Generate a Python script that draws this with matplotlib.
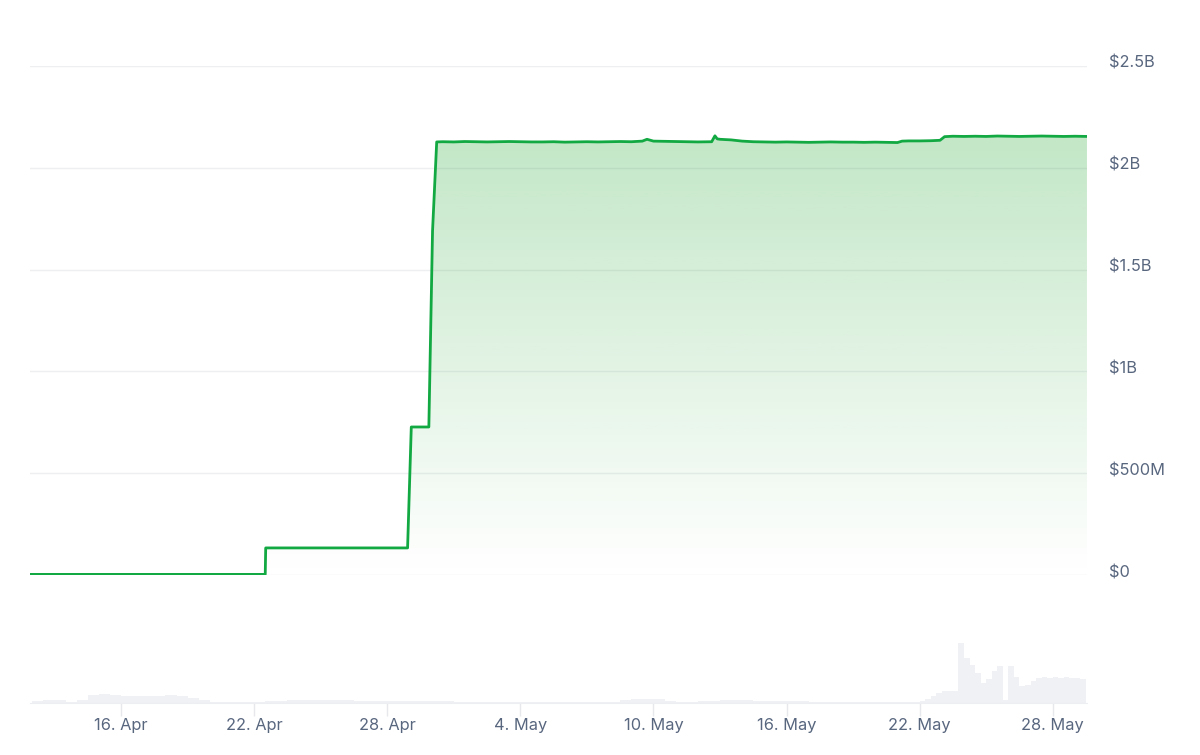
import matplotlib
matplotlib.use("Agg")
import matplotlib.pyplot as plt
import matplotlib.dates as mdates
import matplotlib.transforms as mtransforms
import numpy as np
import pandas as pd

# Market cap (billions of USD)
cap_times = [
    "2024-04-11 21:00", "2024-04-22 12:00", "2024-04-22 12:30", "2024-04-28 22:00",
    "2024-04-29 02:00", "2024-04-29 21:00", "2024-04-30 01:00", "2024-04-30 05:30",
    "2024-04-30 12:00", "2024-05-01 00:00", "2024-05-01 12:00", "2024-05-02 00:00",
    "2024-05-02 12:00", "2024-05-03 00:00", "2024-05-03 12:00", "2024-05-04 00:00",
    "2024-05-04 12:00", "2024-05-05 00:00", "2024-05-05 12:00", "2024-05-06 00:00",
    "2024-05-06 12:00", "2024-05-07 00:00", "2024-05-07 12:00", "2024-05-08 00:00",
    "2024-05-08 12:00", "2024-05-09 00:00", "2024-05-09 12:00", "2024-05-09 17:00",
    "2024-05-10 00:00", "2024-05-10 12:00", "2024-05-11 00:00", "2024-05-11 12:00",
    "2024-05-12 00:00", "2024-05-12 15:00", "2024-05-12 18:30", "2024-05-12 21:00",
    "2024-05-13 00:00", "2024-05-13 12:00", "2024-05-14 00:00", "2024-05-14 12:00",
    "2024-05-15 00:00", "2024-05-15 12:00", "2024-05-16 00:00", "2024-05-16 12:00",
    "2024-05-17 00:00", "2024-05-17 12:00", "2024-05-18 00:00", "2024-05-18 12:00",
    "2024-05-19 00:00", "2024-05-19 12:00", "2024-05-20 00:00", "2024-05-20 12:00",
    "2024-05-21 00:00", "2024-05-21 05:00", "2024-05-21 12:00", "2024-05-22 00:00",
    "2024-05-22 12:00", "2024-05-22 22:00", "2024-05-23 03:00", "2024-05-23 12:00",
    "2024-05-24 00:00", "2024-05-24 12:00", "2024-05-25 00:00", "2024-05-25 12:00",
    "2024-05-26 00:00", "2024-05-26 12:00", "2024-05-27 00:00", "2024-05-27 12:00",
    "2024-05-28 00:00", "2024-05-28 12:00", "2024-05-29 00:00", "2024-05-29 13:00",
]
cap_values = [
    0.003, 0.003, 0.133, 0.133,
    0.727, 0.727, 1.69, 2.127,
    2.128, 2.127, 2.129, 2.128,
    2.127, 2.128, 2.129, 2.128,
    2.127, 2.127, 2.128, 2.126,
    2.127, 2.128, 2.127, 2.128,
    2.129, 2.128, 2.131, 2.140,
    2.131, 2.130, 2.129, 2.128,
    2.127, 2.128, 2.157, 2.142,
    2.140, 2.137, 2.131, 2.128,
    2.127, 2.126, 2.127, 2.126,
    2.125, 2.126, 2.127, 2.126,
    2.126, 2.125, 2.126, 2.125,
    2.124, 2.131, 2.132, 2.132,
    2.133, 2.135, 2.153, 2.155,
    2.154, 2.155, 2.154, 2.156,
    2.155, 2.154, 2.155, 2.156,
    2.155, 2.154, 2.155, 2.154,
]

# Volume (arbitrary units), 12h bins first, then 6h bins
vol_half_start = "2024-04-12 00:00"
vol_half = [
    2, 3, 3, 1, 3, 8, 9, 8, 7, 7, 7, 7, 8, 7, 5, 3,          # Apr 12 - 19
    1, 1, 1, 1, 1, 2, 2, 3, 3, 3, 3, 3, 3, 2, 2, 2,          # Apr 20 - 27
    1.5, 1.5, 1.5, 1.5, 1.5, 1.5,                            # Apr 28 - 30
    1, 1, 1, 1, 1, 1, 1, 1, 1, 1, 1, 1, 1, 1, 1,             # May 1 - 8
    3, 4, 4, 4, 2, 1, 1, 1.5, 2, 3, 3, 3, 2,                 # May 8 - 14
    1.5, 1.5, 1.5, 1.5, 1, 1, 1, 1, 1, 1, 1, 1,              # May 15 - 20
]
vol_quarter_start = "2024-05-21 00:00"
vol_quarter = [
    1, 1, 1, 1, 2, 4, 7, 10, 12, 12, 12, 60,
    45, 38, 30, 20, 24, 32, 37, 3, 37, 26, 17, 18,
    22, 25, 26, 25, 26, 25, 26, 25, 25, 24,
]

y_ticks = [0, 0.5, 1, 1.5, 2, 2.5]
y_labels = ["$0", "$500M", "$1B", "$1.5B", "$2B", "$2.5B"]
x_ticks = ["2024-04-16", "2024-04-22", "2024-04-28", "2024-05-04",
           "2024-05-10", "2024-05-16", "2024-05-22", "2024-05-28"]
x_labels = ["16. Apr", "22. Apr", "28. Apr", "4. May",
            "10. May", "16. May", "22. May", "28. May"]

LINE_GREEN = "#12a842"
LABEL_COLOR = "#58667e"
VOL_COLOR = "#f0f1f5"


def main():
    plt.rcParams['font.family'] = ['Inter', 'DejaVu Sans']

    t = mdates.date2num(pd.to_datetime(cap_times))
    v = np.array(cap_values)
    x_min = mdates.date2num(pd.Timestamp("2024-04-11 21:30"))
    x_max = mdates.date2num(pd.Timestamp("2024-05-29 13:00"))

    fig = plt.figure(figsize=(12, 7.55), dpi=100)
    ax = fig.add_axes([0.025, 0.2384, 0.8808, 0.6742])
    vax = fig.add_axes([0.025, 0.0689, 0.8808, 0.1325])

    # gradient fill under the line
    poly = ax.fill_between(t, v, 0, color="none", lw=0)
    grad = np.zeros((256, 1, 4))
    grad[:, 0, 0] = 23 / 255
    grad[:, 0, 1] = 163 / 255
    grad[:, 0, 2] = 39 / 255
    grad[:, 0, 3] = np.linspace(0.26, 0.0, 256)
    img = ax.imshow(grad, aspect="auto", origin="upper",
                    extent=[x_min, x_max, 0, v.max()], zorder=1)
    img.set_clip_path(poly.get_paths()[0], transform=ax.transData)

    ax.plot(t, v, color=LINE_GREEN, lw=2.0, zorder=3, solid_joinstyle="round")

    ax.set_xlim(x_min, x_max)
    ax.set_ylim(0, 2.5)
    ax.set_yticks(y_ticks)
    ax.set_yticklabels(y_labels)
    ax.yaxis.tick_right()
    ax.tick_params(axis="y", length=0, pad=16, labelsize=11.8, labelcolor=LABEL_COLOR)
    ax.set_xticks([])
    # labels sit a few pixels above their gridlines
    lift = mtransforms.ScaledTranslation(0, 4 / 100, fig.dpi_scale_trans)
    for lab in ax.get_yticklabels():
        lab.set_horizontalalignment("left")
        lab.set_transform(lab.get_transform() + lift)
    ax.grid(axis="y", color="#eeeff1", lw=1)
    ax.set_axisbelow(True)
    for s in ax.spines.values():
        s.set_visible(False)

    # volume bars
    half_t = pd.date_range(vol_half_start, periods=len(vol_half), freq="12h")
    quarter_t = pd.date_range(vol_quarter_start, periods=len(vol_quarter), freq="6h")
    vax.bar(mdates.date2num(half_t), vol_half, width=0.5, align="edge",
            color=VOL_COLOR, lw=0)
    vax.bar(mdates.date2num(quarter_t), vol_quarter, width=0.25, align="edge",
            color=VOL_COLOR, lw=0)
    vax.set_xlim(x_min, x_max)
    vax.set_ylim(0, 100)
    vax.set_yticks([])
    vax.set_xticks(mdates.date2num(pd.to_datetime(x_ticks)))
    vax.set_xticklabels(x_labels)
    vax.tick_params(axis="x", length=9.5, width=1, color="#e6e8ec", pad=1,
                    labelsize=11.8, labelcolor=LABEL_COLOR)
    for name, s in vax.spines.items():
        s.set_visible(name == "bottom")
    vax.spines["bottom"].set_color("#eceef2")
    vax.patch.set_alpha(0)

    fig.savefig("out.png", dpi=100)


if __name__ == "__main__":
    main()
